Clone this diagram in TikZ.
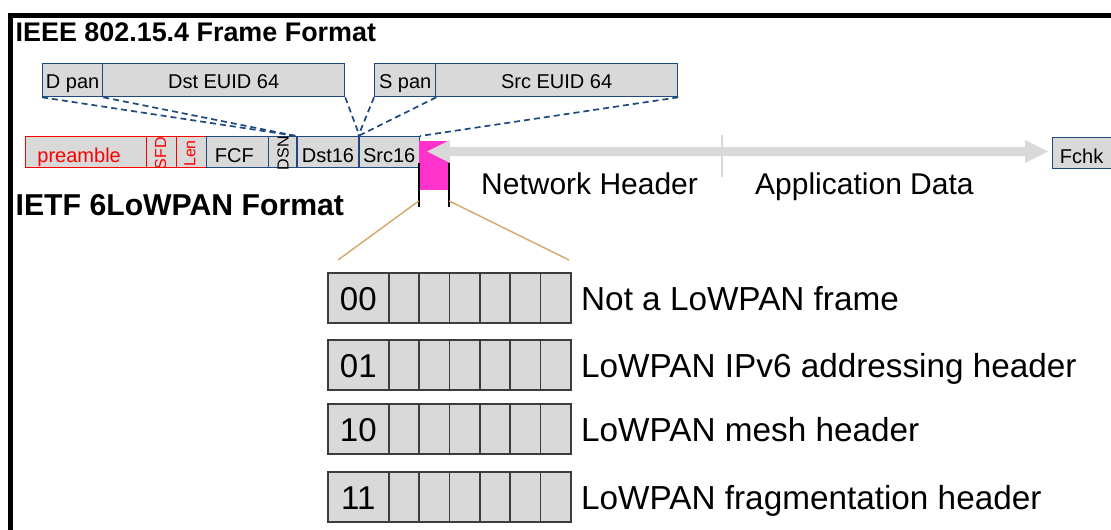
\documentclass[tikz,border=0pt]{standalone}
\usepackage{fontspec}
\setmainfont{Liberation Sans}
\usetikzlibrary{calc}
\newcommand\setpx[1]{\fontsize{#1pt}{#1pt}\selectfont}
\definecolor{boxgray}{RGB}{217,217,217}
\definecolor{fieldblue}{RGB}{31,73,125}
\definecolor{pinkfield}{RGB}{255,51,204}
\definecolor{tanline}{RGB}{214,170,115}
\definecolor{cellrule}{RGB}{60,60,60}
\definecolor{arrowgray}{RGB}{217,217,217}
\begin{document}
\begin{tikzpicture}[x=1pt,y=-1pt,
  field/.style={draw=fieldblue, fill=boxgray, line width=1.3pt, inner sep=0pt,
    anchor=north west, font=\setpx{20}, text height=20pt, text depth=0pt,
    minimum height=31pt},
  phyfield/.style={field, draw=red, text=red},
  extfield/.style={field, text height=17.6pt, minimum height=33pt},
  vlabel/.style={rotate=90, font=\setpx{16}, inner sep=0pt},
  cell/.style={draw=cellrule, fill=boxgray, line width=1.6pt, inner sep=0pt,
    anchor=north west, minimum height=50pt, font=\setpx{33},
    text height=26pt, text depth=0pt},
  rowlabel/.style={anchor=base west, inner sep=0pt, font=\setpx{33.3}},
  heading/.style={anchor=base west, inner sep=0pt, font=\bfseries\setpx{#1}},
  biglabel/.style={anchor=base west, inner sep=0pt, font=\setpx{30}},
  dashlink/.style={draw=fieldblue, line width=1.7pt, dash pattern=on 6pt off 4pt},
  fanline/.style={draw=tanline, line width=1.5pt},
  tick/.style={draw=black, line width=1.8pt}
]
\useasboundingbox (0,0) rectangle (1111,530);

% frame border
\draw[line width=5pt] (10.5,545) -- (10.5,15.5) -- (1125,15.5);

% headings
\node[heading=26.9] (ieee) at (15.5,41.7) {IEEE 802.15.4 Frame Format};
\node[heading=30.2] (ietf) at (15.5,215) {IETF 6LoWPAN Format};

% expanded address fields
\node[extfield, minimum width=60pt]  (dpan)    at (42,63)  {D pan};
\node[extfield, minimum width=242pt] (dsteuid) at (102,63) {Dst EUID 64};
\node[extfield, minimum width=61pt]  (span)    at (374,63) {S pan};
\node[extfield, minimum width=242pt] (srceuid) at (435,63) {Src EUID 64};

% 802.15.4 frame fields
\node[phyfield, minimum width=121pt]  (pre)   at (25,136)    {preamble\hspace*{14pt}};
\node[phyfield, minimum width=30pt]   (sfd)   at (146,136)   {};
\node[phyfield, minimum width=29.7pt] (len)   at (176,136)   {};
\node[field, minimum width=62pt]      (fcf)   at (205.7,136) {FCF\hspace*{6pt}};
\node[field, minimum width=28.6pt]    (dsn)   at (267.7,136) {};
\node[field, minimum width=62pt]      (dst16) at (296.3,136) {Dst16};
\node[field, minimum width=60.4pt]    (src16) at (358.3,136) {Src16};
\node[vlabel, text=red] (sfdtxt) at (160.5,153)   {SFD};
\node[vlabel, text=red] (lentxt) at (190,153.5)   {Len};
\node[vlabel]           (dsntxt) at (283,153.3)   {DSN};
\node[field, minimum width=63pt] (fchk) at (1052,137) {Fchk\hspace*{5pt}};

% address expansion links
\draw[dashlink] (dpan.south west)    -- (dst16.north west);
\draw[dashlink] (dpan.south east)    -- (dst16.north west);
\draw[dashlink] (dsteuid.south east) -- (dst16.north east);
\draw[dashlink] (span.south west)    -- (src16.north west);
\draw[dashlink] (span.south east)    -- (src16.north west);
\draw[dashlink] (srceuid.south east) -- (src16.north east);

% 6LoWPAN dispatch field
\node[fill=pinkfield, inner sep=0pt, minimum width=30.6pt, minimum height=49pt,
  anchor=north west] (nethdr) at (418.7,141) {};

% payload span arrow
\coordinate (spanL) at (427,151.5);
\coordinate (spanR) at (1048,151.5);
\fill[arrowgray] (spanL) -- ++(23,-11.5) -- ++(0,7) -- ($(spanR)+(-23,-4.5)$)
  -- ++(0,-7) -- (spanR) -- ++(-23,11.5) -- ++(0,-7) -- ($(spanL)+(23,4.5)$)
  -- ++(0,7) -- cycle;
\draw[arrowgray, line width=2pt] (721.5,135) -- (721.5,177);
\node[biglabel] (nhlab)  at (481,194.5) {Network Header};
\node[biglabel] (applab) at (755,194.5) {Application Data};

% dispatch bracket and fan-out
\coordinate (tickL) at (418.7,163);
\coordinate (tickR) at (449.3,163);
\draw[tick] (tickL) -- ++(0,44);
\draw[tick] (tickR) -- ++(0,44);
\coordinate (fanL) at (338,260);
\coordinate (fanR) at (569,260);
\draw[fanline] ($(tickL)+(0,38)$) -- (fanL);
\draw[fanline] ($(tickR)+(0,38)$) -- (fanR);

% dispatch values
\foreach \bits/\ytop/\txt [count=\r] in {
    00/272/Not a LoWPAN frame,
    01/339/LoWPAN IPv6 addressing header,
    10/403/LoWPAN mesh header,
    11/471/LoWPAN fragmentation header} {
  \node[cell, minimum width=61pt] (r\r c0) at (327,\ytop) {\bits};
  \foreach \k in {1,...,6} {
    \node[cell, minimum width=30.333pt] (r\r c\k) at ({388+30.333*(\k-1)},\ytop) {};
  }
  \node[rowlabel] (r\r lab) at (581,\ytop+38) {\txt};
}
\end{tikzpicture}
\end{document}
